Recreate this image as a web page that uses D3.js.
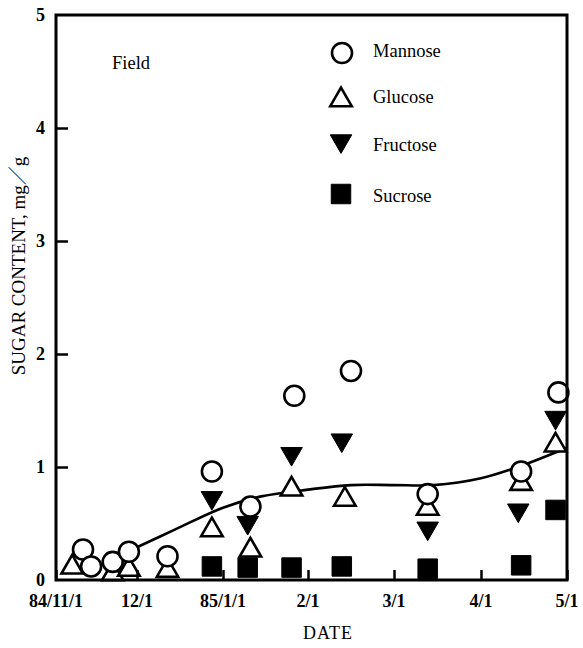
<!DOCTYPE html>
<html>
<head>
<meta charset="utf-8">
<script src="https://cdn.jsdelivr.net/npm/d3@7/dist/d3.min.js"></script>
<style>
  html, body { margin: 0; padding: 0; background: #ffffff; }
  svg { display: block; }
</style>
</head>
<body>
<div id="chart"></div>
<script>

//--------------------------------------
// DATA
//--------------------------------------

const monthTicks = ["84/11/01", "84/12/01", "85/01/01", "85/02/01", "85/03/01", "85/04/01", "85/05/01"];
const monthLabels = ["84/11/1", "12/1", "85/1/1", "2/1", "3/1", "4/1", "5/1"];
const yTicks = [0, 1, 2, 3, 4, 5];

const mannoseDates = ["84/11/11", "84/11/14", "84/11/22", "84/11/28", "84/12/12", "84/12/28", "85/01/11", "85/01/27", "85/02/15", "85/03/13", "85/04/15", "85/04/28"];
const mannoseValues = [0.27, 0.12, 0.16, 0.25, 0.21, 0.96, 0.65, 1.63, 1.85, 0.76, 0.96, 1.66];

const glucoseDates = ["84/11/07", "84/11/22", "84/11/28", "84/12/12", "84/12/28", "85/01/11", "85/01/26", "85/02/13", "85/03/13", "85/04/15", "85/04/27"];
const glucoseValues = [0.13, 0.07, 0.11, 0.10, 0.46, 0.28, 0.82, 0.73, 0.65, 0.87, 1.21];

const fructoseDates = ["84/12/28", "85/01/10", "85/01/26", "85/02/12", "85/03/13", "85/04/14", "85/04/27"];
const fructoseValues = [0.71, 0.49, 1.10, 1.22, 0.44, 0.60, 1.42];

const sucroseDates = ["84/12/28", "85/01/10", "85/01/26", "85/02/12", "85/03/13", "85/04/15", "85/04/27"];
const sucroseValues = [0.12, 0.11, 0.11, 0.12, 0.10, 0.13, 0.62];

// fitted trend line
const fitDates = ["84/12/01", "84/12/15", "85/01/01", "85/01/15", "85/02/01", "85/02/15", "85/03/01", "85/03/15", "85/04/01", "85/04/15", "85/05/01"];
const fitValues = [0.29, 0.45, 0.64, 0.74, 0.80, 0.84, 0.84, 0.84, 0.90, 1.01, 1.17];

const legendNames = ["Mannose", "Glucose", "Fructose", "Sucrose"];



//--------------------------------------
// SETUP
//--------------------------------------

const W = 583, H = 648;
const plotLeft = 56, plotRight = 567, plotTop = 15, plotBottom = 580;
const serif = "'Liberation Serif', 'Times New Roman', serif";

const parse = d3.timeParse("%y/%m/%d");

const svg = d3.select("#chart").append("svg")
  .attr("width", W)
  .attr("height", H);

// printed month spacing is nearly even, so the time scale is piecewise
const x = d3.scaleTime()
  .domain(monthTicks.map(parse))
  .range([56, 137, 223, 308, 394, 481, 567]);

const y = d3.scaleLinear()
  .domain([0, 5])
  .range([plotBottom, plotTop]);

const toPoints = (dates, values) => dates.map((d, i) => ({ date: parse(d), value: values[i] }));



//--------------------------------------
// AXES
//--------------------------------------

function drawAxes() {

  // inward ticks on the left
  let yAxis = svg.append("g")
    .attr("transform", `translate(${plotLeft},0)`)
    .call(d3.axisRight(y).tickValues(yTicks.slice(1, 5)).tickSize(12).tickFormat(""));

  yAxis.select(".domain").remove();
  yAxis.selectAll("line").attr("stroke", "#000").attr("stroke-width", 2.5);

  // inward ticks on the bottom
  let xAxis = svg.append("g")
    .attr("transform", `translate(0,${plotBottom})`)
    .call(d3.axisTop(x).tickValues(monthTicks.map(parse)).tickSize(10).tickFormat(""));

  xAxis.select(".domain").remove();
  xAxis.selectAll("line").attr("stroke", "#000").attr("stroke-width", 2.5);

  // frame
  svg.append("rect")
    .attr("x", plotLeft)
    .attr("y", plotTop)
    .attr("width", plotRight - plotLeft)
    .attr("height", plotBottom - plotTop)
    .attr("fill", "none")
    .attr("stroke", "#000")
    .attr("stroke-width", 3);

  svg.append("g").selectAll("text")
    .data(yTicks)
    .join("text")
    .attr("x", plotLeft - 11)
    .attr("y", d => y(d) + 6)
    .attr("text-anchor", "end")
    .attr("font-family", serif)
    .attr("font-weight", "bold")
    .attr("font-size", 18)
    .text(d => d);

  svg.append("g").selectAll("text")
    .data(monthTicks)
    .join("text")
    .attr("x", d => x(parse(d)))
    .attr("y", 607)
    .attr("text-anchor", "middle")
    .attr("font-family", serif)
    .attr("font-weight", "bold")
    .attr("font-size", 18)
    .text((d, i) => monthLabels[i]);

  svg.append("text")
    .attr("x", 328)
    .attr("y", 639)
    .attr("text-anchor", "middle")
    .attr("font-family", serif)
    .attr("font-size", 18)
    .attr("letter-spacing", 1)
    .text("DATE");

  svg.append("text")
    .attr("transform", "translate(25,266) rotate(-90)")
    .attr("text-anchor", "middle")
    .attr("font-family", serif + ", 'Noto Sans CJK JP'")
    .attr("font-size", 19)
    .text("SUGAR CONTENT, mg／g");

  svg.append("text")
    .attr("x", 112)
    .attr("y", 69)
    .attr("font-family", serif)
    .attr("font-size", 18.5)
    .text("Field");

}



//--------------------------------------
// MARKERS
//--------------------------------------

const triUp = d3.symbol().type(d3.symbolTriangle).size(200)();
const square = d3.symbol().type(d3.symbolSquare).size(380)();

function drawCircle(g, cx, cy) {
  g.append("circle")
    .attr("cx", cx)
    .attr("cy", cy)
    .attr("r", 10)
    .attr("fill", "#fff")
    .attr("stroke", "#000")
    .attr("stroke-width", 2.6);
}

function drawPath(g, cx, cy, path, filled, rot) {
  g.append("path")
    .attr("d", path)
    .attr("transform", `translate(${cx},${cy}) rotate(${rot || 0})`)
    .attr("fill", filled ? "#000" : "#fff")
    .attr("stroke", "#000")
    .attr("stroke-width", filled ? 1 : 2.6)
    .attr("stroke-linejoin", "miter");
}

function drawSeries() {

  let g = svg.append("g");

  toPoints(sucroseDates, sucroseValues).forEach(p => drawPath(g, x(p.date), y(p.value), square, true));
  toPoints(fructoseDates, fructoseValues).forEach(p => drawPath(g, x(p.date), y(p.value) - 2, triUp, true, 180));

  // fitted curve
  let line = d3.line()
    .x(d => x(d.date))
    .y(d => y(d.value))
    .curve(d3.curveCatmullRom);

  g.append("path")
    .datum(toPoints(fitDates, fitValues))
    .attr("d", line)
    .attr("fill", "none")
    .attr("stroke", "#000")
    .attr("stroke-width", 2.6);

  toPoints(glucoseDates, glucoseValues).forEach(p => drawPath(g, x(p.date), y(p.value) + 2, triUp, false));
  toPoints(mannoseDates, mannoseValues).forEach(p => drawCircle(g, x(p.date), y(p.value)));

}



function drawLegend() {

  let g = svg.append("g");
  let mx = 341;
  let rows = [53, 98, 143, 194];
  let base = [57, 103, 151, 202];

  drawCircle(g, mx + 1, rows[0]);
  drawPath(g, mx, rows[1] + 2, triUp, false);
  drawPath(g, mx, rows[2] - 2, triUp, true, 180);
  drawPath(g, mx, rows[3], square, true);

  g.selectAll("text")
    .data(legendNames)
    .join("text")
    .attr("x", 373)
    .attr("y", (d, i) => base[i])
    .attr("font-family", serif)
    .attr("font-size", 18.5)
    .text(d => d);

}



drawSeries();
drawAxes();
drawLegend();

</script>
</body>
</html>
